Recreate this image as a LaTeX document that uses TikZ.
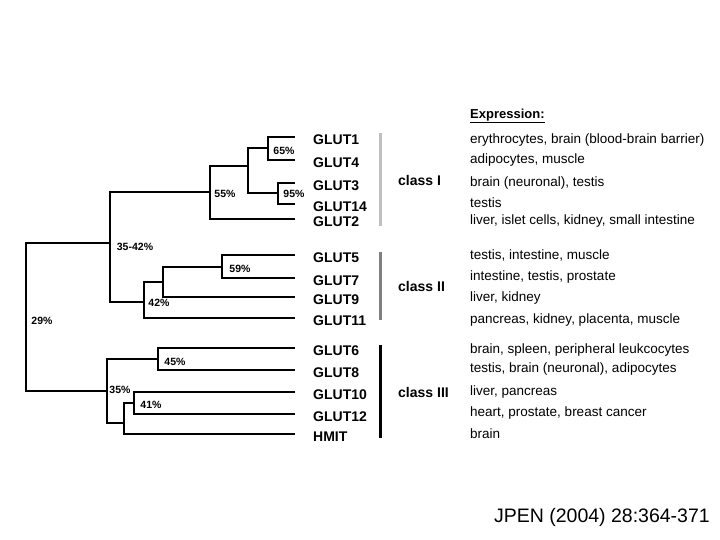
\documentclass[tikz,border=0pt]{standalone}
\usepackage{fontspec}
\setmainfont{Liberation Sans}
\begin{document}
\begin{tikzpicture}[x=1pt,y=-1pt,
  br/.style={line width=1.6pt},
  lf/.style={anchor=west,font=\bfseries\fontsize{14}{15}\selectfont,inner sep=0pt},
  pc/.style={font=\bfseries\fontsize{10.5}{11}\selectfont,inner sep=0pt},
  ex/.style={anchor=west,font=\fontsize{13.5}{14}\selectfont,inner sep=0pt},
  cl/.style={anchor=west,font=\bfseries\fontsize{14}{15}\selectfont,inner sep=0pt}]
\useasboundingbox (0,0) rectangle (720,540);
% leaves
\foreach \n/\t/\y in {g1/GLUT1/137,g4/GLUT4/160,g3/GLUT3/183,g14/GLUT14/204,g2/GLUT2/219,g5/GLUT5/255,g7/GLUT7/278,g9/GLUT9/297,g11/GLUT11/318,g6/GLUT6/348,g8/GLUT8/370,g10/GLUT10/392,g12/GLUT12/414,hm/HMIT/434}{
  \coordinate (\n) at (295,\y);
  \node[lf] (l\n) at (313,\y+3) {\t};}
% class I
\coordinate (a) at (268,148); \draw[br] (g1) -| (a) |- (g4);
\coordinate (b) at (278,193); \draw[br] (g3) -| (b) |- (g14);
\coordinate (c) at (248,166); \draw[br] (a) -| (c) |- (b);
\coordinate (d) at (210,192); \draw[br] (c) -| (d) |- (g2);
% class II
\coordinate (e) at (222,267); \draw[br] (g5) -| (e) |- (g7);
\coordinate (f) at (163,282); \draw[br] (e) -| (f) |- (g9);
\coordinate (g) at (144,302); \draw[br] (f) -| (g) |- (g11);
\coordinate (h) at (110,243); \draw[br] (d) -| (h) |- (g);
% class III
\coordinate (i) at (158,359); \draw[br] (g6) -| (i) |- (g8);
\coordinate (j) at (134,403); \draw[br] (g10) -| (j) |- (g12);
\coordinate (k) at (124,423); \draw[br] (j) -| (k) |- (hm);
\coordinate (m) at (107,391); \draw[br] (i) -| (m) |- (k);
\coordinate (r) at (26,320); \draw[br] (h) -| (r) |- (m);
% percents
\node[pc] (p65) at (284,151) {65\%};
\node[pc] (p95) at (294,194) {95\%};
\node[pc] (p55) at (225,194) {55\%};
\node[pc] (p3542) at (135,247) {35-42\%};
\node[pc] (p59) at (240,269) {59\%};
\node[pc] (p42) at (159,303) {42\%};
\node[pc] (p29) at (42,321) {29\%};
\node[pc] (p45) at (175,362) {45\%};
\node[pc] (p35) at (120,390) {35\%};
\node[pc] (p41) at (151,405) {41\%};
% class bars
\draw[line width=3pt,black!25] (380,133) -- (380,226);
\draw[line width=3pt,black!50] (380,252) -- (380,320);
\draw[line width=3pt,black] (380,345) -- (380,438);
\node[cl] (c1) at (398,180) {class I};
\node[cl] (c2) at (398,286) {class II};
\node[cl] (c3) at (398,392) {class III};
% expression
\node[ex,font=\bfseries\fontsize{13}{14}\selectfont] (eh) at (470,116) {\underline{Expression:}};
\foreach \t/\y in {{erythrocytes, brain (blood-brain barrier)}/140,{adipocytes, muscle}/160,{brain (neuronal), testis}/183,{testis}/203,{liver, islet cells, kidney, small intestine}/221,{testis, intestine, muscle}/255,{intestine, testis, prostate}/277,{liver, kidney}/298,{pancreas, kidney, placenta, muscle}/320,{brain, spleen, peripheral leukcocytes}/350,{testis, brain (neuronal), adipocytes}/369,{liver, pancreas}/392,{heart, prostate, breast cancer}/413,{brain}/434}{
  \node[ex] at (470,\y) {\t};}
\node[anchor=east,font=\fontsize{19.5}{20}\selectfont,inner sep=0pt] (ft) at (710,517) {JPEN (2004) 28:364-371};
\end{tikzpicture}
\end{document}
